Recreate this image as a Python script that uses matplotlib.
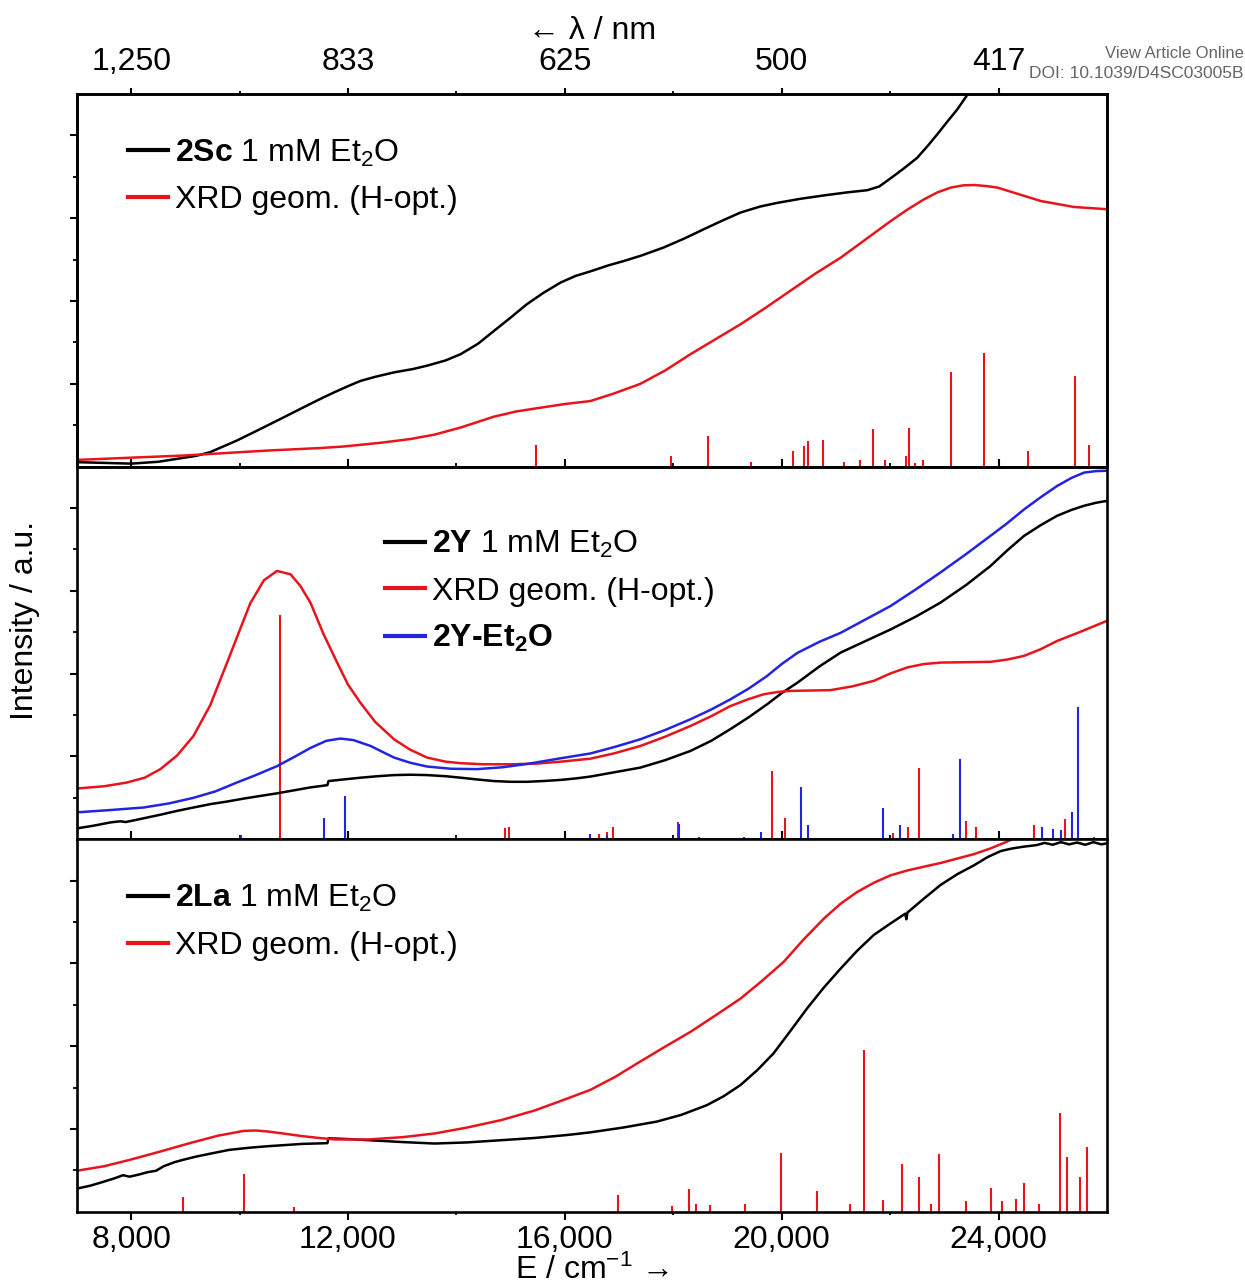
import numpy as np
import matplotlib
matplotlib.use('Agg')
import matplotlib.pyplot as plt
from matplotlib.ticker import FixedLocator

plt.rcParams["font.family"] = ["Liberation Sans", "DejaVu Sans"]
plt.rcParams["mathtext.fontset"] = "custom"
plt.rcParams["mathtext.rm"] = "Liberation Sans"
plt.rcParams["mathtext.it"] = "Liberation Sans:italic"
plt.rcParams["mathtext.bf"] = "Liberation Sans:bold"
plt.rcParams["font.size"] = 23

RED = "#e8141c"
BLUE = "#2424e0"

#%% axis ticks
e_ticks = [8000, 12000, 16000, 20000, 24000]
e_labels = ["8,000", "12,000", "16,000", "20,000", "24,000"]
e_minor = [10000, 14000, 18000, 22000]
lam_labels = ["1,250", "833", "625", "500", "417"]

#%% 2Sc panel
sc_exp_E = [7000, 7500, 8000, 8500, 8850, 9200, 9460, 9950, 10300, 10700, 11000, 11300, 11550,
            11740, 12000, 12230, 12500, 12850, 13200, 13460, 13800, 14080, 14400, 14690, 15000,
            15300, 15600, 15920, 16200, 16470, 16800, 17090, 17400, 17820, 18200, 18560, 18900,
            19240, 19600, 19920, 20350, 20780, 21200, 21580, 21800, 22010, 22250, 22500, 22700,
            22870, 23050, 23240, 23420, 23600]
sc_exp_I = [0.012, 0.010, 0.008, 0.013, 0.021, 0.029, 0.039, 0.070, 0.095, 0.124, 0.146, 0.168, 0.186,
            0.199, 0.216, 0.230, 0.241, 0.253, 0.262, 0.271, 0.285, 0.302, 0.330, 0.364, 0.400,
            0.436, 0.466, 0.494, 0.512, 0.524, 0.540, 0.552, 0.566, 0.588, 0.612, 0.637, 0.660,
            0.682, 0.698, 0.708, 0.719, 0.728, 0.736, 0.742, 0.752, 0.774, 0.800, 0.829, 0.862,
            0.892, 0.925, 0.959, 0.997, 1.03]
sc_calc_E = [7000, 8000, 9000, 9460, 10500, 11500, 11920, 12600, 13150, 13600, 14080, 14690, 15100,
             15500, 16000, 16470, 16900, 17390, 17850, 18320, 18780, 19240, 19700, 20160, 20620,
             21090, 21550, 22010, 22320, 22620, 22870, 23120, 23350, 23550, 23780, 23980, 24380,
             24780, 25390, 26000]
sc_calc_I = [0.018, 0.024, 0.030, 0.034, 0.043, 0.050, 0.054, 0.064, 0.074, 0.086, 0.105, 0.134, 0.148,
             0.157, 0.168, 0.176, 0.196, 0.222, 0.258, 0.302, 0.342, 0.382, 0.426, 0.472, 0.518,
             0.561, 0.610, 0.659, 0.690, 0.717, 0.736, 0.749, 0.755, 0.756, 0.753, 0.749, 0.731,
             0.713, 0.697, 0.691]
sc_stick_E = [15477, 17962, 18647, 19431, 20214, 20410, 20484, 20764, 21144, 21451, 21683, 21903,
              22294, 22344, 22466, 22601, 23127, 23740, 24535, 25405, 25661]
sc_stick_f = [0.058, 0.029, 0.083, 0.012, 0.043, 0.055, 0.068, 0.072, 0.013, 0.019, 0.102, 0.019,
              0.029, 0.104, 0.009, 0.018, 0.255, 0.306, 0.043, 0.242, 0.058]

#%% 2Y panel
y_exp_E = [7000, 7300, 7620, 7800, 7900, 8100, 8230, 8550, 8850, 9150, 9460, 9770, 10080, 10380,
           10690, 11000, 11310, 11620, 11640, 11900, 12230, 12550, 12850, 13150, 13460, 13800,
           14080, 14400, 14690, 15000, 15310, 15600, 15920, 16200, 16470, 16930, 17390, 17850,
           18320, 18700, 19050, 19400, 19730, 20000, 20290, 20700, 21090, 21550, 22010, 22470,
           22930, 23400, 23850, 24160, 24470, 24780, 25080, 25350, 25580, 25800, 26000]
y_exp_I = [0.029, 0.036, 0.045, 0.048, 0.046, 0.052, 0.056, 0.066, 0.076, 0.085, 0.094, 0.101, 0.109,
           0.116, 0.123, 0.131, 0.139, 0.145, 0.156, 0.160, 0.165, 0.169, 0.172, 0.173, 0.172,
           0.169, 0.165, 0.160, 0.156, 0.154, 0.154, 0.156, 0.159, 0.163, 0.168, 0.180, 0.192,
           0.212, 0.237, 0.264, 0.295, 0.328, 0.362, 0.392, 0.420, 0.464, 0.501, 0.532, 0.563,
           0.597, 0.635, 0.682, 0.733, 0.775, 0.814, 0.843, 0.868, 0.884, 0.895, 0.903, 0.908]
y_calc_E = [7000, 7500, 7920, 8250, 8540, 8850, 9150, 9460, 9770, 10000, 10200, 10450, 10690, 10940,
            11120, 11310, 11550, 11800, 12000, 12230, 12500, 12850, 13150, 13460, 13800, 14080,
            14500, 15000, 15500, 15920, 16470, 16900, 17390, 17850, 18320, 18700, 19050, 19370,
            19670, 19920, 20160, 20530, 20900, 21300, 21700, 22010, 22320, 22620, 22930, 23400,
            23850, 24160, 24470, 24780, 25080, 25500, 26000]
y_calc_I = [0.136, 0.142, 0.152, 0.165, 0.188, 0.225, 0.277, 0.360, 0.474, 0.560, 0.634, 0.695, 0.720,
            0.711, 0.680, 0.634, 0.550, 0.474, 0.415, 0.366, 0.315, 0.268, 0.240, 0.219, 0.208,
            0.204, 0.201, 0.201, 0.203, 0.208, 0.216, 0.230, 0.250, 0.275, 0.304, 0.330, 0.357,
            0.375, 0.389, 0.395, 0.398, 0.399, 0.400, 0.410, 0.425, 0.445, 0.461, 0.470, 0.474,
            0.475, 0.476, 0.482, 0.492, 0.510, 0.532, 0.556, 0.586]
yet_calc_E = [7000, 7600, 8230, 8700, 9150, 9550, 9950, 10300, 10690, 11000, 11310, 11600, 11860,
              12100, 12420, 12640, 12850, 13150, 13460, 13900, 14380, 14850, 15310, 15920, 16470,
              16930, 17390, 17850, 18320, 18700, 19050, 19400, 19730, 20000, 20290, 20700, 21090,
              21550, 22010, 22470, 22930, 23400, 23850, 24160, 24470, 24780, 25080, 25350, 25580,
              25800, 26000]
yet_calc_I = [0.072, 0.078, 0.085, 0.096, 0.111, 0.128, 0.152, 0.172, 0.196, 0.220, 0.245, 0.264,
              0.270, 0.266, 0.250, 0.234, 0.219, 0.205, 0.195, 0.189, 0.188, 0.193, 0.202, 0.217,
              0.230, 0.248, 0.268, 0.293, 0.322, 0.348, 0.375, 0.405, 0.438, 0.470, 0.500, 0.530,
              0.554, 0.590, 0.626, 0.670, 0.716, 0.765, 0.814, 0.848, 0.885, 0.918, 0.948, 0.970,
              0.984, 0.988, 0.989]
y_stick_E = [10742, 14890, 14962, 16627, 16786, 16885, 18095, 19822, 20055, 22050, 22331, 22540,
             23397, 23593, 24646, 25229, 25755]
y_stick_f = [0.601, 0.031, 0.034, 0.014, 0.019, 0.034, 0.047, 0.182, 0.057, 0.016, 0.034, 0.191,
             0.050, 0.032, 0.037, 0.055, 0.005]
yet_stick_E = [10027, 11560, 11938, 16468, 16778, 18104, 18477, 19304, 19614, 20365, 20483, 21870,
               22189, 23162, 23287, 24801, 25008, 25159, 25358, 25474]
yet_stick_f = [0.010, 0.056, 0.117, 0.015, 0.010, 0.040, 0.005, 0.006, 0.018, 0.141, 0.039, 0.085,
               0.037, 0.014, 0.215, 0.033, 0.026, 0.024, 0.073, 0.355]

#%% 2La panel
la_exp_E = [7000, 7250, 7480, 7700, 7850, 7970, 8150, 8300, 8460, 8600, 8800, 8950, 9200, 9500, 9810,
            10200, 10540, 10850, 11150, 11620, 11640, 12000, 12380, 13000, 13600, 14200, 14830,
            15450, 16050, 16470, 17080, 17700, 18150, 18620, 18930, 19240, 19550, 19850, 20160,
            20470, 20780, 21090, 21390, 21700, 22010, 22280, 22300, 22320, 22620, 22930, 23240,
            23550, 23800, 24040, 24250, 24470, 24700, 24850, 25000, 25150, 25300, 25450, 25600,
            25750, 25900, 26000]
la_exp_I = [0.062, 0.070, 0.080, 0.090, 0.098, 0.094, 0.100, 0.106, 0.110, 0.122, 0.133, 0.139, 0.148,
            0.157, 0.166, 0.172, 0.176, 0.179, 0.182, 0.184, 0.197, 0.195, 0.192, 0.187, 0.183,
            0.186, 0.192, 0.198, 0.206, 0.213, 0.226, 0.242, 0.260, 0.286, 0.310, 0.340, 0.380,
            0.425, 0.485, 0.546, 0.602, 0.653, 0.700, 0.743, 0.774, 0.800, 0.785, 0.803, 0.840,
            0.877, 0.906, 0.930, 0.952, 0.968, 0.975, 0.980, 0.984, 0.990, 0.985, 0.992, 0.986,
            0.991, 0.985, 0.992, 0.986, 0.989]
la_calc_E = [7000, 7500, 7970, 8500, 9080, 9600, 10080, 10300, 10540, 10850, 11150, 11460, 11760,
             12380, 13000, 13600, 14200, 14830, 15450, 16050, 16470, 16930, 17390, 17850, 18320,
             18780, 19240, 19640, 20040, 20400, 20780, 21090, 21390, 21700, 22010, 22320, 22620,
             22930, 23240, 23550, 23850, 24100, 24290, 24600]
la_calc_I = [0.110, 0.122, 0.139, 0.160, 0.184, 0.204, 0.217, 0.218, 0.215, 0.209, 0.203, 0.198, 0.194,
             0.194, 0.200, 0.210, 0.226, 0.246, 0.272, 0.304, 0.327, 0.362, 0.403, 0.443, 0.483,
             0.527, 0.572, 0.620, 0.671, 0.730, 0.787, 0.827, 0.858, 0.883, 0.903, 0.916, 0.926,
             0.936, 0.948, 0.960, 0.975, 0.990, 1.002, 1.02]
la_stick_E = [8951, 10090, 11008, 16981, 17985, 18292, 18427, 18683, 19320, 19994, 20655, 21255,
              21525, 21866, 22222, 22529, 22759, 22894, 23397, 23861, 24069, 24315, 24475, 24744,
              25135, 25257, 25503, 25637]
la_stick_f = [0.040, 0.101, 0.012, 0.045, 0.015, 0.060, 0.022, 0.018, 0.020, 0.157, 0.056, 0.022,
              0.434, 0.031, 0.127, 0.092, 0.020, 0.155, 0.029, 0.063, 0.028, 0.034, 0.076, 0.020,
              0.266, 0.146, 0.092, 0.174]

#%% Plots
fig, axs = plt.subplots(3, 1, figsize=(12.45, 12.87), dpi=100, sharex=True,
                        gridspec_kw=dict(hspace=0))
fig.subplots_adjust(left=0.0618, right=0.8891, top=0.9269, bottom=0.0585)

lw = 1.8
stick_lw = 1.5
leg_kw = dict(loc='upper left', frameon=False, borderpad=0, borderaxespad=0,
              handlelength=1.25, handletextpad=0.22, labelspacing=0.52)

ax = axs[0]
ax.vlines(sc_stick_E, 0, sc_stick_f, color=RED, lw=stick_lw)
ax.plot(sc_exp_E, sc_exp_I, color='k', lw=lw, label=r"$\mathbf{2Sc}$ 1 mM Et$_2$O")
ax.plot(sc_calc_E, sc_calc_I, color=RED, lw=lw, label="XRD geom. (H-opt.)")
leg0 = ax.legend(bbox_to_anchor=(0.0495, 0.883), **leg_kw)

ax = axs[1]
ax.vlines(y_stick_E, 0, y_stick_f, color=RED, lw=stick_lw)
ax.vlines(yet_stick_E, 0, yet_stick_f, color=BLUE, lw=stick_lw)
ax.plot(y_exp_E, y_exp_I, color='k', lw=lw, label=r"$\mathbf{2Y}$ 1 mM Et$_2$O")
ax.plot(y_calc_E, y_calc_I, color=RED, lw=lw, label="XRD geom. (H-opt.)")
ax.plot(yet_calc_E, yet_calc_I, color=BLUE, lw=lw, label=r"2Y-Et$_\mathbf{2}$O")
leg1 = ax.legend(bbox_to_anchor=(0.299, 0.833), **leg_kw)
leg1.get_texts()[2].set_fontweight('bold')

ax = axs[2]
ax.vlines(la_stick_E, 0, la_stick_f, color=RED, lw=stick_lw)
ax.plot(la_exp_E, la_exp_I, color='k', lw=lw, label=r"$\mathbf{2La}$ 1 mM Et$_2$O")
ax.plot(la_calc_E, la_calc_I, color=RED, lw=lw, label="XRD geom. (H-opt.)")
leg2 = ax.legend(bbox_to_anchor=(0.0495, 0.882), **leg_kw)

for leg in (leg0, leg1, leg2):
    for line in leg.get_lines():
        line.set_linewidth(3.0)

for ax in axs:
    ax.set_xlim(7000, 26000)
    ax.set_ylim(0, 1)
    ax.set_yticks([2 / 9, 4 / 9, 6 / 9, 8 / 9])
    ax.yaxis.set_minor_locator(FixedLocator([1 / 9, 3 / 9, 5 / 9, 7 / 9]))
    ax.set_yticklabels([])
    ax.tick_params(axis='y', which='major', direction='out', length=5, width=1.5)
    ax.tick_params(axis='y', which='minor', direction='out', length=3, width=1.3)
    for sp in ax.spines.values():
        sp.set_linewidth(1.9)
    ax.set_xticks(e_ticks)
    ax.xaxis.set_minor_locator(FixedLocator(e_minor))

for ax in axs[:2]:
    ax.tick_params(axis='x', which='major', direction='inout', length=11, width=1.5, labelbottom=False)
    ax.tick_params(axis='x', which='minor', direction='inout', length=6, width=1.3)

axs[2].set_xticklabels(e_labels)
axs[2].tick_params(axis='x', which='major', direction='out', length=5.5, width=1.5, pad=4)
axs[2].tick_params(axis='x', which='minor', direction='out', length=2.5, width=1.3)
# x label placed by hand so that it keeps clear of the tick labels
fig.text(592 / 1245, 1 - 1279 / 1287, "E / cm$^{-1}$ \u2192", ha='center', va='baseline')

ax_top = axs[0].twiny()
ax_top.set_xlim(axs[0].get_xlim())
ax_top.set_xticks(e_ticks)
ax_top.set_xticklabels(lam_labels)
ax_top.xaxis.set_minor_locator(FixedLocator(e_minor))
ax_top.tick_params(axis='x', which='major', direction='out', length=4, width=1.5, pad=8)
ax_top.tick_params(axis='x', which='minor', direction='out', length=2.5, width=1.3)
ax_top.set_xlabel("\u2190 \u03bb / nm", labelpad=6)
for sp in ax_top.spines.values():
    sp.set_linewidth(1.9)

fig.text(25 / 1245, 1 - 621 / 1287, "Intensity / a.u.", rotation=90, ha='center', va='center')

fig.text(0.999, 1 - 53 / 1287, "View Article Online", ha='right', va='center', fontsize=12, color='#666666')
fig.text(0.999, 1 - 73 / 1287, "DOI: 10.1039/D4SC03005B", ha='right', va='center', fontsize=12.5, color='#666666')

plt.savefig("out.png", dpi=100)
